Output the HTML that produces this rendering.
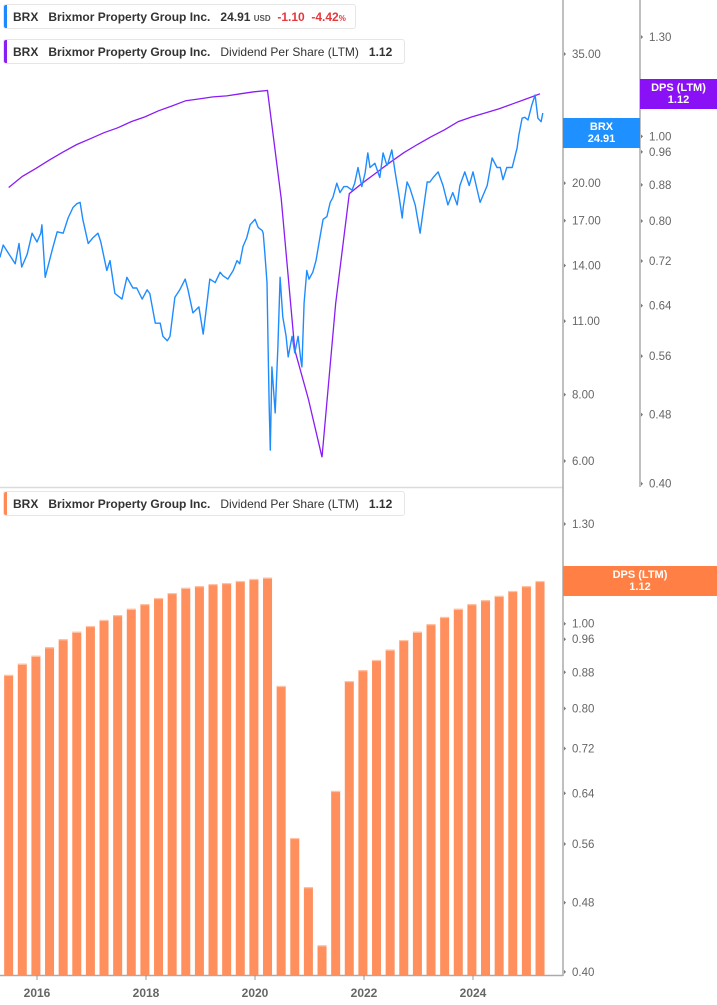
<!DOCTYPE html>
<html><head><meta charset="utf-8"><style>
html,body{margin:0;padding:0;background:#fff;}
body{width:717px;height:1005px;position:relative;overflow:hidden;font-family:"Liberation Sans",sans-serif;}
.leg{position:absolute;left:3px;height:25px;background:#fff;border:1px solid #e6e6e6;border-radius:3px;font-size:12px;color:#333;line-height:25px;white-space:nowrap;padding-left:9px;padding-right:10px;box-sizing:border-box;}
.leg .bar{position:absolute;left:0;top:0;width:3px;height:100%;border-radius:2px 0 0 2px;}
.leg b{font-weight:bold;}
.lab{position:absolute;color:#fff;font-size:11px;font-weight:bold;text-align:center;line-height:12px;padding-top:3px;box-sizing:border-box;}
</style></head><body>
<svg id="chart" width="717" height="1005" style="position:absolute;left:0;top:0"></svg>

<div class="leg" style="top:4px;width:353px"><span class="bar" style="background:#1e88ff"></span><b>BRX</b>&nbsp;&nbsp;&nbsp;<b>Brixmor Property Group Inc.</b>&nbsp;&nbsp;&nbsp;<b>24.91</b> <span style="font-size:8px;color:#555;font-weight:bold">USD</span>&nbsp;&nbsp;<b style="color:#e5383b">-1.10</b>&nbsp;&nbsp;<b style="color:#e5383b">-4.42</b><span style="font-size:8px;color:#e5383b;font-weight:bold">%</span></div>
<div class="leg" style="top:39px;width:402px"><span class="bar" style="background:#8a1ff5"></span><b>BRX</b>&nbsp;&nbsp;&nbsp;<b>Brixmor Property Group Inc.</b>&nbsp;&nbsp;&nbsp;Dividend Per Share (LTM)&nbsp;&nbsp;&nbsp;<b>1.12</b></div>
<div class="leg" style="top:491px;width:402px"><span class="bar" style="background:#ff8a55"></span><b>BRX</b>&nbsp;&nbsp;&nbsp;<b>Brixmor Property Group Inc.</b>&nbsp;&nbsp;&nbsp;Dividend Per Share (LTM)&nbsp;&nbsp;&nbsp;<b>1.12</b></div>

<div class="lab" style="left:563px;top:118px;width:77px;height:30px;background:#1e90ff">BRX<br>24.91</div>
<div class="lab" style="left:640px;top:79px;width:77px;height:30px;background:#8a10f5">DPS (LTM)<br>1.12</div>
<div class="lab" style="left:563px;top:566px;width:154px;height:30px;background:#ff7f45">DPS (LTM)<br>1.12</div>

<script>
const priceDates=[2015.32,2015.38,2015.47,2015.60,2015.67,2015.72,2015.82,2015.91,2016.0,2016.07,2016.09,2016.15,2016.28,2016.37,2016.48,2016.57,2016.66,2016.73,2016.79,2016.84,2016.94,2017.03,2017.12,2017.17,2017.28,2017.34,2017.43,2017.56,2017.65,2017.76,2017.83,2017.93,2018.02,2018.07,2018.17,2018.26,2018.31,2018.39,2018.44,2018.53,2018.62,2018.72,2018.77,2018.86,2018.97,2019.05,2019.12,2019.17,2019.27,2019.36,2019.41,2019.50,2019.60,2019.67,2019.72,2019.78,2019.85,2019.91,2020.00,2020.06,2020.13,2020.15,2020.18,2020.22,2020.24,2020.26,2020.28,2020.31,2020.37,2020.40,2020.42,2020.46,2020.51,2020.57,2020.61,2020.68,2020.73,2020.79,2020.84,2020.86,2020.90,2020.95,2020.99,2021.06,2021.12,2021.19,2021.25,2021.32,2021.38,2021.43,2021.50,2021.56,2021.63,2021.69,2021.78,2021.83,2021.89,2021.96,2022.02,2022.07,2022.11,2022.20,2022.29,2022.35,2022.42,2022.44,2022.51,2022.57,2022.64,2022.70,2022.72,2022.79,2022.84,2022.94,2023.03,2023.08,2023.16,2023.21,2023.27,2023.36,2023.45,2023.54,2023.63,2023.71,2023.76,2023.85,2023.93,2024.00,2024.13,2024.26,2024.35,2024.44,2024.50,2024.55,2024.62,2024.72,2024.81,2024.84,2024.90,2024.95,2025.01,2025.08,2025.14,2025.19,2025.25,2025.28];
const priceValues=[14.5,15.3,14.8,14.1,15.4,13.9,14.7,16.1,15.5,16.1,16.7,13.3,15.0,16.2,16.1,17.2,18.0,18.3,18.4,17.1,15.4,15.8,16.1,15.5,13.7,14.3,12.4,12.1,13.3,12.7,12.7,12.1,12.6,12.4,10.9,10.9,10.3,10.1,10.3,12.2,12.6,13.2,12.6,11.4,11.7,10.4,11.9,13.2,13.0,13.6,13.4,13.2,13.7,14.3,14.1,15.2,15.8,16.7,17.1,16.5,16.3,16.1,14.8,13.0,9.84,7.59,6.29,9.02,7.39,8.79,9.84,13.3,11.2,10.3,9.42,10.3,9.59,10.3,9.30,9.02,11.9,13.7,13.2,13.6,14.3,15.8,17.1,17.3,18.4,18.8,20.0,19.2,19.7,19.7,19.4,20.0,21.4,19.7,20.9,22.8,21.4,21.8,20.5,22.8,21.6,21.8,23.1,21.0,19.0,17.2,18.0,20.1,19.6,18.2,16.1,17.6,20.1,20.1,20.5,21.0,19.8,18.2,19.2,18.2,19.8,21.0,19.8,21.0,18.4,19.8,22.3,21.4,21.4,20.3,21.4,21.4,23.3,24.6,26.5,26.6,26.3,28.1,29.3,26.5,26.1,27.1,25.5,26.0,23.1,24.91];
const dpsDates=[2015.48,2015.73,2015.98,2016.23,2016.48,2016.73,2016.98,2017.23,2017.48,2017.73,2017.98,2018.23,2018.48,2018.73,2018.98,2019.23,2019.48,2019.73,2019.98,2020.23,2020.48,2020.73,2020.98,2021.23,2021.48,2021.73,2021.98,2022.23,2022.48,2022.73,2022.98,2023.23,2023.48,2023.73,2023.98,2024.23,2024.48,2024.73,2024.98,2025.23];
const dpsValues=[0.874,0.900,0.919,0.940,0.960,0.979,0.994,1.010,1.023,1.040,1.053,1.070,1.084,1.099,1.104,1.110,1.113,1.119,1.125,1.129,0.849,0.569,0.500,0.429,0.644,0.860,0.885,0.909,0.934,0.958,0.979,0.999,1.018,1.040,1.053,1.064,1.076,1.090,1.104,1.119];
const priceTicks=[35,25,20,17,14,11,8,6];
const dpsTicksTop=[1.30,1.00,0.96,0.88,0.80,0.72,0.64,0.56,0.48,0.40];
const dpsTicksBottom=[1.30,1.15,1.00,0.96,0.88,0.80,0.72,0.64,0.56,0.48,0.40];
const yearTicks=[2016,2018,2020,2022,2024];

const NS='http://www.w3.org/2000/svg';
const svg=document.getElementById('chart');
function mk(tag,attrs,parent){const e=document.createElementNS(NS,tag);for(const k in attrs)e.setAttribute(k,attrs[k]);(parent||svg).appendChild(e);return e;}
const xOf=yr=>37+(yr-2016)*54.5;
const yPrice=p=>54+(Math.log(35)-Math.log(p))*230.8;
const yDpsTop=v=>37+(Math.log(1.3)-Math.log(v))*379;
const yDpsBot=v=>524+(Math.log(1.3)-Math.log(v))*380;

// frame lines
let l;
l=mk('line',{x1:0,y1:487.5,x2:563,y2:487.5,stroke:'#dcdcdc','stroke-width':1.5});


l=mk('line',{x1:563,y1:0,x2:563,y2:976,stroke:'#aaa','stroke-width':1.5});


l=mk('line',{x1:640,y1:0,x2:640,y2:487,stroke:'#aaa','stroke-width':1.5});


l=mk('line',{x1:0,y1:975.5,x2:563,y2:975.5,stroke:'#aaa','stroke-width':1.5});



function tick(x,y,txt,name){
  const t=mk('path',{d:`M${x+1} ${y-2}L${x+3} ${y}L${x+1} ${y+2}Z`,fill:'#777'});
  
  
  const tx=mk('text',{x:x+9,y:y+4,'font-size':11.5,fill:'#666','font-family':'Liberation Sans, sans-serif'});
  tx.textContent=txt;
  
  
}
priceTicks.forEach(v=>tick(563,yPrice(v),v.toFixed(2),'price-axis'));
dpsTicksTop.forEach(v=>tick(640,yDpsTop(v),v.toFixed(2),'dps-axis-top'));
dpsTicksBottom.forEach(v=>tick(563,yDpsBot(v),v.toFixed(2),'dps-axis-bottom'));

// bars
dpsValues.forEach((v,i)=>{
  const x=xOf(dpsDates[i]);const y=yDpsBot(v);
  const r=mk('rect',{x:x-4.5,y:y,width:9,height:975-y,fill:'#ff8f5c'});
  
  
  const c=mk('rect',{x:x-4.5,y:y,width:9,height:1.2,fill:'#ffc3a6'});
  
  
});

// dps line (top)
let d='';dpsValues.forEach((v,i)=>{d+=(i?'L':'M')+xOf(dpsDates[i]).toFixed(1)+' '+yDpsTop(v).toFixed(1);});
l=mk('path',{d:d,fill:'none',stroke:'#8a1cf5','stroke-width':1.3});



// price line
d='';priceValues.forEach((v,i)=>{d+=(i?'L':'M')+xOf(priceDates[i]).toFixed(1)+' '+yPrice(v).toFixed(1);});
l=mk('path',{d:d,fill:'none',stroke:'#1e8cff','stroke-width':1.4,'stroke-linejoin':'round'});



// x ticks
yearTicks.forEach(yr=>{
  const x=xOf(yr);
  const t=mk('line',{x1:x,y1:975,x2:x,y2:980,stroke:'#999','stroke-width':1});
  
  
  const tx=mk('text',{x:x,y:997,'font-size':12,'font-weight':'bold',fill:'#666','text-anchor':'middle','font-family':'Liberation Sans, sans-serif'});
  tx.textContent=String(yr);
  
  
});
</script>
</body></html>
